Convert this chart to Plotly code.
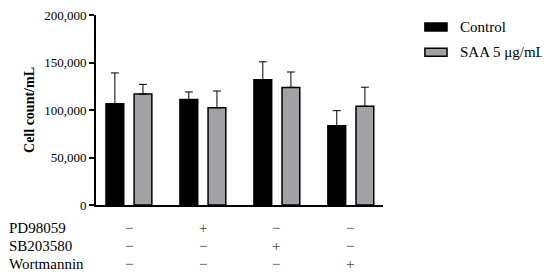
import plotly.graph_objects as go

groups = [0, 1, 2, 3]
control = [106600, 111000, 131800, 83500]
control_err = [32400, 8000, 18900, 15800]
saa = [116800, 102400, 123800, 103900]
saa_err = [10200, 17600, 16200, 20100]
series_names = ["Control", "SAA 5 μg/mL"]
row_labels = ["PD98059", "SB203580", "Wortmannin"]
row_signs = [["−", "+", "−", "−"],
             ["−", "−", "+", "−"],
             ["−", "−", "−", "+"]]
yticks = [0, 50000, 100000, 150000, 200000]
ytick_text = ["0", "50,000", "100,000", "150,000", "200,000"]

FONT = "Liberation Serif, Times New Roman, serif"
GRAY = "#a2a2a6"

fig = go.Figure()
fig.add_trace(go.Bar(
    x=groups, y=control, width=0.24, offset=-0.305,
    marker=dict(color="black", line=dict(color="black", width=1.5)),
    error_y=dict(type="data", array=control_err, arrayminus=[0]*4, symmetric=False,
                 color="black", thickness=1, width=4),
    name=series_names[0], showlegend=False))
fig.add_trace(go.Bar(
    x=groups, y=saa, width=0.24, offset=0.075,
    marker=dict(color=GRAY, line=dict(color="black", width=1.5)),
    error_y=dict(type="data", array=saa_err, arrayminus=[0]*4, symmetric=False,
                 color="black", thickness=1, width=4),
    name=series_names[1], showlegend=False))

annotations = []
row_y = [-0.119, -0.217, -0.313]
for i, lab in enumerate(row_labels):
    annotations.append(dict(text=lab, x=-0.31, y=row_y[i], xref="paper", yref="paper",
                            xanchor="left", yanchor="middle", showarrow=False,
                            font=dict(family=FONT, size=15, color="black")))
    for j, s in enumerate(row_signs[i]):
        annotations.append(dict(text=s, x=groups[j], y=row_y[i], xref="x", yref="paper",
                                xanchor="center", yanchor="middle", showarrow=False,
                                font=dict(family=FONT, size=15, color="#444")))

# legend
shapes = []
leg_y = [(0.958, 0.916, 0.935), (0.825, 0.783, 0.804)]
leg_fill = ["black", GRAY]
for k, name in enumerate(series_names):
    y1, y0, yc = leg_y[k]
    shapes.append(dict(type="rect", xref="paper", yref="paper", x0=1.146, x1=1.223,
                       y0=y0, y1=y1, fillcolor=leg_fill[k],
                       line=dict(color="black", width=1.5)))
    annotations.append(dict(text=name, x=1.261, y=yc, xref="paper", yref="paper",
                            xanchor="left", yanchor="middle", showarrow=False,
                            font=dict(family=FONT, size=15, color="black")))

fig.update_layout(
    width=542, height=268,
    margin=dict(l=88, r=167, t=7, b=71),
    paper_bgcolor="white", plot_bgcolor="white",
    font=dict(family=FONT, size=13, color="black"),
    annotations=annotations, shapes=shapes,
    xaxis=dict(range=[-0.44, 3.44], showline=True, linecolor="black", linewidth=2,
               showticklabels=False, ticks="", showgrid=False, zeroline=False,
               fixedrange=True, automargin=False),
    yaxis=dict(range=[0, 200000], tickvals=yticks, ticktext=ytick_text,
               showline=True, linecolor="black", linewidth=2, ticks="outside", ticklen=5,
               tickwidth=2, tickcolor="black", showgrid=False, zeroline=False,
               automargin=False, ticklabeloverflow="allow",
               tickfont=dict(family=FONT, size=13),
               title=dict(text="<b>Cell count/mL</b>", font=dict(family=FONT, size=14), standoff=6)),
)
fig.write_html("out.html")
